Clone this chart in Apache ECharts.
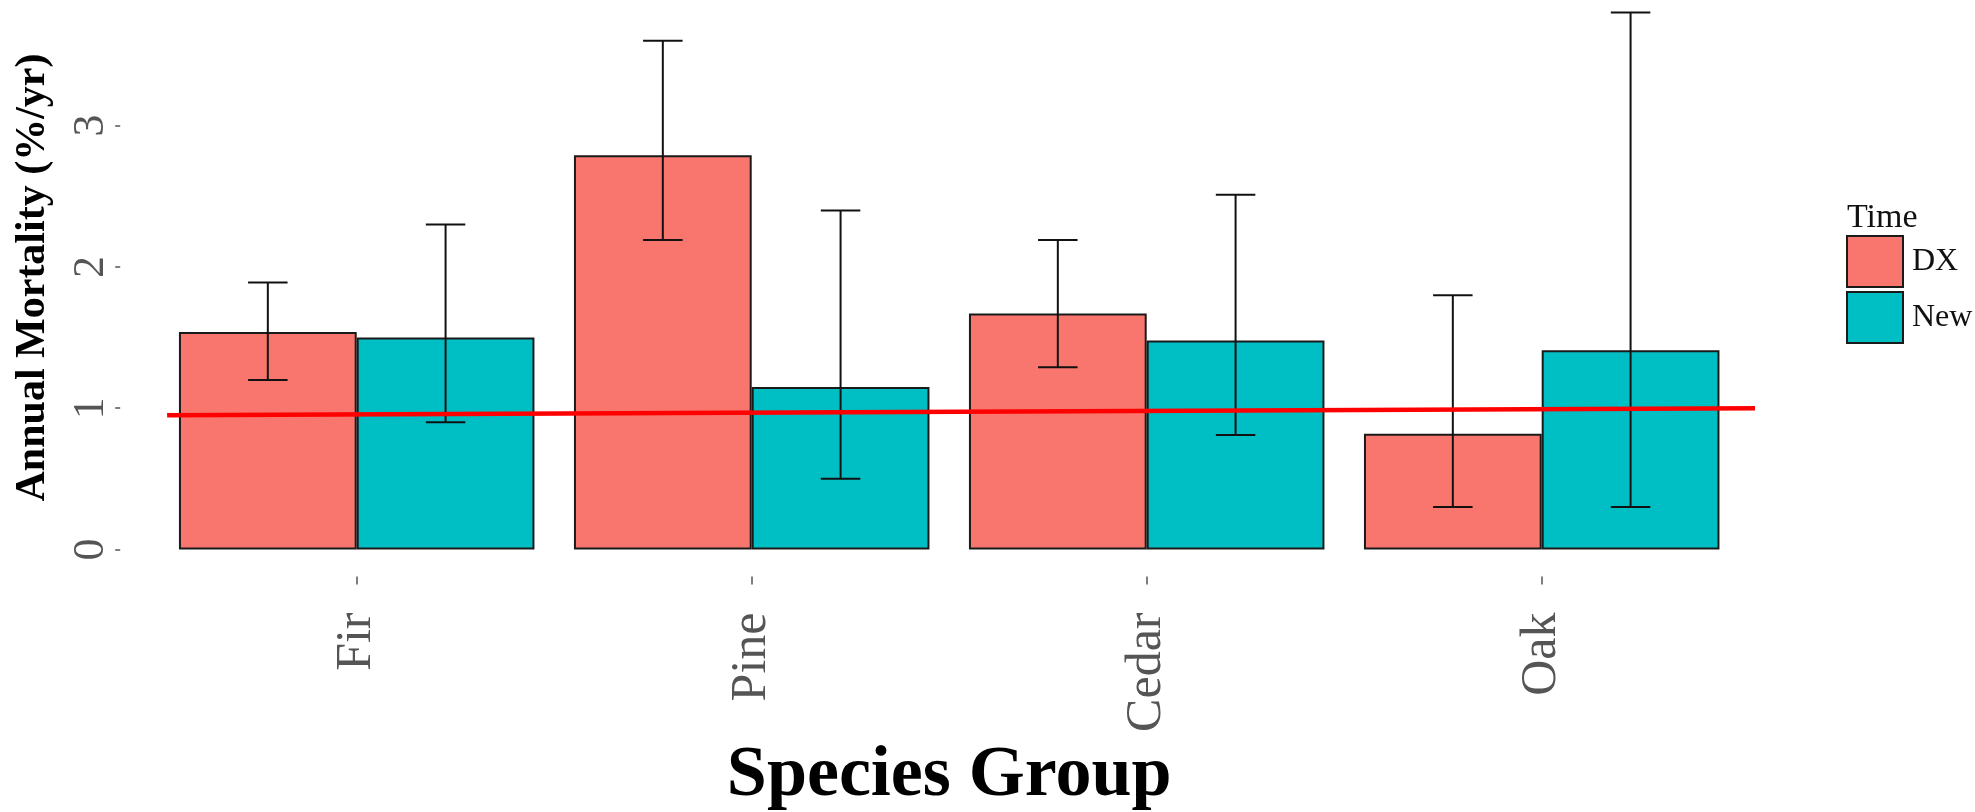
<!DOCTYPE html>
<html>
<head>
<meta charset="utf-8">
<title>Annual Mortality by Species Group</title>
<script src="https://cdn.jsdelivr.net/npm/echarts@6/dist/echarts.min.js"></script>
<style>
  html, body { margin: 0; padding: 0; background: #ffffff; }
  #chart { width: 1975px; height: 812px; }
</style>
</head>
<body>
<div id="chart"></div>
<script>
// Species groups on the x axis
const categories = ['Fir', 'Pine', 'Cedar', 'Oak'];

// Mean annual mortality (%/yr) per period
const dxMean  = [1.54, 2.79, 1.67, 0.82];
const newMean = [1.50, 1.15, 1.48, 1.41];

// Error bar limits
const dxLow   = [1.20, 2.19, 1.29, 0.30];
const dxHigh  = [1.89, 3.60, 2.19, 1.80];
const newLow  = [0.90, 0.50, 0.81, 0.30];
const newHigh = [2.30, 2.40, 2.51, 3.80];

// Reference line endpoints: [position in category units, mortality]
const refLine = [[-0.48, 0.95], [3.54, 1.00]];

const seriesNames = ['DX', 'New'];
const colors = ['#F8766D', '#00BFC4'];
const serif = '"Liberation Serif", "Times New Roman", serif';

// Shared vertical scale
const yMin = 0, yMax = 3.85;

function errorBars(side) {
  return function (params, api) {
    const i = api.value(0);
    const lo = api.coord([i, api.value(1)]);
    const hi = api.coord([i, api.value(2)]);
    const band = api.size([1, 0])[0];
    const x = lo[0] + side * 0.225 * band;
    const half = 0.05 * band;
    const style = { stroke: '#111111', lineWidth: 2 };
    return {
      type: 'group',
      children: [
        { type: 'line', shape: { x1: x, y1: lo[1], x2: x, y2: hi[1] }, style: style },
        { type: 'line', shape: { x1: x - half, y1: hi[1], x2: x + half, y2: hi[1] }, style: style },
        { type: 'line', shape: { x1: x - half, y1: lo[1], x2: x + half, y2: lo[1] }, style: style }
      ]
    };
  };
}

const chart = echarts.init(document.getElementById('chart'), null, { renderer: 'canvas' });

chart.setOption({
  backgroundColor: '#ffffff',
  animation: false,
  title: [{
    text: 'Time',
    left: 1842,
    top: 196,
    textStyle: { fontFamily: serif, fontSize: 34, fontWeight: 'normal', color: '#111111' }
  }],
  legend: {
    data: seriesNames,
    orient: 'vertical',
    left: 1841,
    top: 230,
    itemWidth: 56,
    itemHeight: 51,
    itemGap: 3,
    icon: 'rect',
    itemStyle: { borderColor: '#1a1a1a', borderWidth: 2 },
    textStyle: { fontFamily: serif, fontSize: 32, color: '#111111', padding: [0, 0, 0, 4] }
  },
  grid: [
    // bars and error bars
    { left: 159.2, right: 235.8, top: 5.5, bottom: 262.5, containLabel: false, outerBoundsMode: 'none' },
    // full panel width for the reference line
    { left: 119.7, right: 196.3, top: 5.5, bottom: 262.5, containLabel: false, outerBoundsMode: 'none' }
  ],
  xAxis: [{
    type: 'category',
    gridIndex: 0,
    data: categories,
    offset: 27,
    axisLine: { show: false, onZero: false },
    axisTick: { show: true, alignWithLabel: true, length: 8, lineStyle: { color: '#555555', width: 1.5 } },
    axisLabel: { rotate: 90, fontFamily: serif, fontSize: 50, color: '#555555', margin: 36 },
    name: 'Species Group',
    nameLocation: 'middle',
    nameGap: 164,
    nameTextStyle: { fontFamily: serif, fontSize: 72, fontWeight: 'bold', color: '#000000' }
  }, {
    type: 'value',
    gridIndex: 1,
    min: -0.6,
    max: 3.6,
    show: false
  }],
  yAxis: [{
    type: 'value',
    gridIndex: 0,
    min: yMin,
    max: yMax,
    interval: 1,
    offset: 39,
    axisLine: { show: false, onZero: false },
    axisTick: { show: true, length: 5, lineStyle: { color: '#555555', width: 1.5 } },
    axisLabel: { rotate: 90, fontFamily: serif, fontSize: 44, color: '#555555', margin: 7, showMaxLabel: false },
    splitLine: { show: false },
    name: 'Annual Mortality (%/yr)',
    nameLocation: 'middle',
    nameGap: 66,
    nameTextStyle: { fontFamily: serif, fontSize: 42, fontWeight: 'bold', color: '#000000' }
  }, {
    type: 'value',
    gridIndex: 1,
    min: yMin,
    max: yMax,
    show: false
  }],
  series: [
    {
      name: 'DX', type: 'bar', xAxisIndex: 0, yAxisIndex: 0, data: dxMean,
      barGap: '0%', barCategoryGap: '10%',
      itemStyle: { color: colors[0], borderColor: '#1a1a1a', borderWidth: 2 }
    },
    {
      name: 'New', type: 'bar', xAxisIndex: 0, yAxisIndex: 0, data: newMean,
      barGap: '0%', barCategoryGap: '10%',
      itemStyle: { color: colors[1], borderColor: '#1a1a1a', borderWidth: 2 }
    },
    {
      name: 'DX interval', type: 'custom', xAxisIndex: 0, yAxisIndex: 0,
      renderItem: errorBars(-1),
      encode: { x: 0, y: [1, 2] },
      data: categories.map((c, i) => [i, dxLow[i], dxHigh[i]]),
      z: 5
    },
    {
      name: 'New interval', type: 'custom', xAxisIndex: 0, yAxisIndex: 0,
      renderItem: errorBars(1),
      encode: { x: 0, y: [1, 2] },
      data: categories.map((c, i) => [i, newLow[i], newHigh[i]]),
      z: 5
    },
    {
      name: 'Reference', type: 'line', xAxisIndex: 1, yAxisIndex: 1,
      data: refLine, symbol: 'none',
      lineStyle: { color: '#FF0000', width: 4.5 },
      z: 10
    }
  ]
});
</script>
</body>
</html>
